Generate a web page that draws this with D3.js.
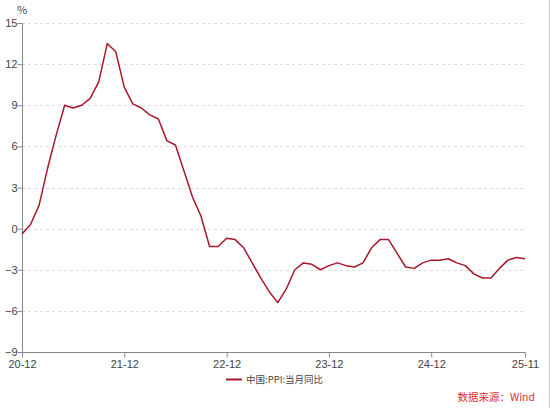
<!DOCTYPE html>
<html><head><meta charset="utf-8">
<script src="https://cdn.jsdelivr.net/npm/d3@7"></script>
<style>
body{margin:0;background:#fff;}
svg{display:block;font-family:"Microsoft YaHei","Noto Sans CJK SC","DejaVu Sans",sans-serif;}
</style></head>
<body><svg id="c" width="550" height="408"></svg>
<script>
const months = ["20-12","21-01","21-02","21-03","21-04","21-05","21-06","21-07","21-08","21-09","21-10","21-11",
"21-12","22-01","22-02","22-03","22-04","22-05","22-06","22-07","22-08","22-09","22-10","22-11",
"22-12","23-01","23-02","23-03","23-04","23-05","23-06","23-07","23-08","23-09","23-10","23-11",
"23-12","24-01","24-02","24-03","24-04","24-05","24-06","24-07","24-08","24-09","24-10","24-11",
"24-12","25-01","25-02","25-03","25-04","25-05","25-06","25-07","25-08","25-09","25-10","25-11"];
const ppi = [-0.4,0.3,1.7,4.4,6.8,9.0,8.8,9.0,9.5,10.7,13.5,12.9,
10.3,9.1,8.8,8.3,8.0,6.4,6.1,4.2,2.3,0.9,-1.3,-1.3,
-0.7,-0.8,-1.4,-2.5,-3.6,-4.6,-5.4,-4.4,-3.0,-2.5,-2.6,-3.0,
-2.7,-2.5,-2.7,-2.8,-2.5,-1.4,-0.8,-0.8,-1.8,-2.8,-2.9,-2.5,
-2.3,-2.3,-2.2,-2.5,-2.7,-3.3,-3.6,-3.6,-2.9,-2.3,-2.1,-2.2];
const xTicks = ["20-12","21-12","22-12","23-12","24-12","25-11"];
const yTicks = [-9,-6,-3,0,3,6,9,12,15];
const seriesName = "中国:PPI:当月同比";
const sourceText = "数据来源：Wind";
const unit = "%";

const svg = d3.select("#c");
const L=22, R=525, T=23, B=352;
const x = d3.scalePoint().domain(months).range([L,R]);
const y = d3.scaleLinear().domain([-9,15]).range([B,T]);
const txt="#444";

// right border
svg.append("line").attr("x1",549.5).attr("x2",549.5).attr("y1",0).attr("y2",408).attr("stroke","#c8c8c8").attr("stroke-width",1);

// grid
svg.append("g").selectAll("line").data(yTicks.filter(d=>d!==-9)).join("line")
 .attr("x1",L).attr("x2",R).attr("y1",d=>Math.round(y(d))+0.5).attr("y2",d=>Math.round(y(d))+0.5)
 .attr("stroke","#dcdcdc").attr("stroke-dasharray","3,3").attr("stroke-width",1);

// y axis
const ya = svg.append("g").attr("transform",`translate(${L+0.5},0)`)
 .call(d3.axisLeft(y).tickValues(yTicks).tickSize(5).tickFormat(d3.format("d")));
ya.select(".domain").attr("stroke","#888").attr("d",`M-0,${T}V${B}`);
ya.selectAll(".tick line").attr("stroke","#888");
ya.selectAll(".tick text").attr("fill",txt).attr("font-size",11).attr("x",-5);

// x axis
const xa = svg.append("g").attr("transform",`translate(0,${B+0.5})`)
 .call(d3.axisBottom(x).tickValues(xTicks).tickSize(5));
xa.select(".domain").attr("stroke","#888").attr("d",`M${L},0H${R}`);
xa.selectAll(".tick line").attr("stroke","#888");
xa.selectAll(".tick text").attr("fill",txt).attr("font-size",11).attr("dy","0.9em").attr("y",6);

svg.append("text").attr("x",L).attr("y",14).attr("text-anchor","middle").attr("fill",txt).attr("font-size",11).text(unit);

// line
svg.append("path").datum(ppi).attr("fill","none").attr("stroke","#a8182b").attr("stroke-width",1.5)
 .attr("stroke-linejoin","round")
 .attr("d",d3.line().x((d,i)=>x(months[i])).y(d=>y(d)));

// legend
svg.append("line").attr("x1",226).attr("x2",242).attr("y1",379.5).attr("y2",379.5).attr("stroke","#a8182b").attr("stroke-width",2);
svg.append("text").attr("x",246).attr("y",383).attr("fill",txt).attr("font-size",9.5).text(seriesName);

// source
svg.append("text").attr("x",535).attr("y",401).attr("text-anchor","end").attr("fill","#e03030").attr("font-size",10.5).text(sourceText);
</script></body></html>
